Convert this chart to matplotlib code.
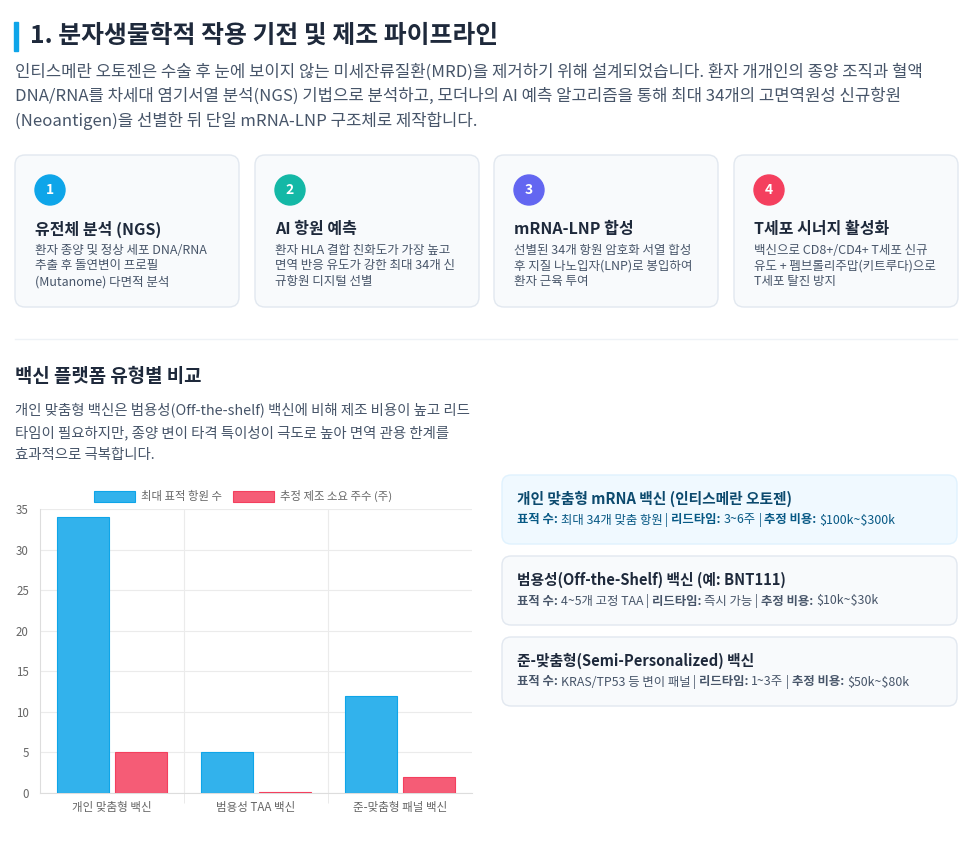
import matplotlib.pyplot as plt
from matplotlib.patches import FancyBboxPatch, Circle, Rectangle

plt.rcParams["font.family"] = ["Noto Sans CJK KR", "DejaVu Sans"]

# ---- data ----
title = "1. 분자생물학적 작용 기전 및 제조 파이프라인"
intro_lines = [
    "인티스메란 오토젠은 수술 후 눈에 보이지 않는 미세잔류질환(MRD)을 제거하기 위해 설계되었습니다. 환자 개개인의 종양 조직과 혈액",
    "DNA/RNA를 차세대 염기서열 분석(NGS) 기법으로 분석하고, 모더나의 AI 예측 알고리즘을 통해 최대 34개의 고면역원성 신규항원",
    "(Neoantigen)을 선별한 뒤 단일 mRNA-LNP 구조체로 제작합니다.",
]
step_titles = ["유전체 분석 (NGS)", "AI 항원 예측", "mRNA-LNP 합성", "T세포 시너지 활성화"]
step_texts = [
    ["환자 종양 및 정상 세포 DNA/RNA", "추출 후 돌연변이 프로필", "(Mutanome) 다면적 분석"],
    ["환자 HLA 결합 친화도가 가장 높고", "면역 반응 유도가 강한 최대 34개 신", "규항원 디지털 선별"],
    ["선별된 34개 항원 암호화 서열 합성", "후 지질 나노입자(LNP)로 봉입하여", "환자 근육 투여"],
    ["백신으로 CD8+/CD4+ T세포 신규", "유도 + 펨브롤리주맙(키트루다)으로", "T세포 탈진 방지"],
]
step_colors = ["#0ea5e9", "#14b8a6", "#6366f1", "#f43f5e"]

section_title = "백신 플랫폼 유형별 비교"
section_lines = [
    "개인 맞춤형 백신은 범용성(Off-the-shelf) 백신에 비해 제조 비용이 높고 리드",
    "타임이 필요하지만, 종양 변이 타격 특이성이 극도로 높아 면역 관용 한계를",
    "효과적으로 극복합니다.",
]

categories = ["개인 맞춤형 백신", "범용성 TAA 백신", "준-맞춤형 패널 백신"]
antigen_counts = [34, 5, 12]
mfg_weeks = [5, 0.1, 2]
series_names = ["최대 표적 항원 수", "추정 제조 소요 주수 (주)"]

platform_titles = [
    "개인 맞춤형 mRNA 백신 (인티스메란 오토젠)",
    "범용성(Off-the-Shelf) 백신 (예: BNT111)",
    "준-맞춤형(Semi-Personalized) 백신",
]
platform_targets = ["최대 34개 맞춤 항원", "4~5개 고정 TAA", "KRAS/TP53 등 변이 패널"]
platform_leads = ["3~6주", "즉시 가능", "1~3주"]
platform_costs = ["$100k~$300k", "$10k~$30k", "$50k~$80k"]

W, H = 975, 841
fig = plt.figure(figsize=(W / 100, H / 100), dpi=100)
bg = fig.add_axes([0, 0, 1, 1])
bg.set_xlim(0, W)
bg.set_ylim(H, 0)
bg.set_axis_off()

dark = "#1e293b"
body = "#475569"

# header
bg.add_patch(Rectangle((14, 22), 3.5, 29, color="#0ea5e9"))
bg.text(30, 36, title, fontsize=17.9, fontweight="bold", color=dark, va="center")
for i, line in enumerate(intro_lines):
    bg.text(15, 72 + i * 24.5, line, fontsize=12.05, color=body, va="center")

# step cards
card_x = [15, 255, 494, 734]
for i in range(4):
    x0 = card_x[i]
    bg.add_patch(FancyBboxPatch((x0, 155), 224, 152, boxstyle="round,pad=0,rounding_size=10",
                                fc="#f8fafc", ec="#e2e8f0", lw=1))
    bg.add_patch(Circle((x0 + 35, 190), 15, color=step_colors[i]))
    bg.text(x0 + 35, 190, str(i + 1), fontsize=10, fontweight="bold", color="white",
            ha="center", va="center")
    bg.text(x0 + 20, 229, step_titles[i], fontsize=11.5, fontweight="bold", color=dark, va="center")
    for j, line in enumerate(step_texts[i]):
        bg.text(x0 + 20, 250 + j * 16, line, fontsize=9.0, color=body, va="center")

bg.plot([15, 957], [339, 339], color="#eef2f6", lw=1)

bg.text(15, 376, section_title, fontsize=13.6, fontweight="bold", color=dark, va="center")
for i, line in enumerate(section_lines):
    bg.text(15, 410 + i * 22.5, line, fontsize=10.4, color=body, va="center")

# platform cards
renderer = fig.canvas.get_renderer()


def run_text(x, y, parts, color):
    for txt, weight in parts:
        t = bg.text(x, y, txt, fontsize=8.9, fontweight=weight, color=color, va="center",
                    parse_math=False)
        bb = t.get_window_extent(renderer)
        x += bb.width


card_tops = [475, 556, 637]
for i in range(3):
    top = card_tops[i]
    if i == 0:
        fc, ec, tc, sc = "#f0f9ff", "#e0f2fe", "#0c4a6e", "#075985"
    else:
        fc, ec, tc, sc = "#f8fafc", "#e2e8f0", dark, body
    bg.add_patch(FancyBboxPatch((502, top), 455, 69, boxstyle="round,pad=0,rounding_size=9",
                                fc=fc, ec=ec, lw=1))
    bg.text(517, top + 24, platform_titles[i], fontsize=10.6, fontweight="bold", color=tc, va="center")
    run_text(517, top + 45, [
        ("표적 수: ", "bold"), (platform_targets[i], "normal"), (" | ", "normal"),
        ("리드타임: ", "bold"), (platform_leads[i], "normal"), (" | ", "normal"),
        ("추정 비용: ", "bold"), (platform_costs[i], "normal"),
    ], sc)

# bar chart
ax = fig.add_axes([40 / W, 1 - 793 / H, 432 / W, 284 / H])
xs = list(range(len(categories)))
blue = "#32b2ec"
red = "#f55c76"
ax.bar([x - 0.2 for x in xs], antigen_counts, width=0.36, color=blue, edgecolor="#0ea5e9",
       lw=0.8, label=series_names[0], zorder=3)
ax.bar([x + 0.2 for x in xs], mfg_weeks, width=0.36, color=red, edgecolor="#f43f5e",
       lw=0.8, label=series_names[1], zorder=3)
ax.set_xlim(-0.5, 2.5)
ax.set_ylim(0, 35)
ax.set_yticks(range(0, 36, 5))
ax.set_xticks(xs)
ax.set_xticklabels(categories)
ax.set_xticks([0.5, 1.5], minor=True)
ax.tick_params(axis="y", length=0, pad=8, labelsize=8.3, labelcolor="#666666")
ax.tick_params(axis="x", which="major", length=0, pad=6, labelsize=8.3, labelcolor="#666666")
ax.tick_params(axis="x", which="minor", length=7, color="#e6e6e6")
ax.grid(axis="y", color="#ebebeb", lw=0.8, zorder=0)
ax.grid(axis="x", which="minor", color="#ebebeb", lw=0.8, zorder=0)
for s in ["top", "right"]:
    ax.spines[s].set_visible(False)
for s in ["left", "bottom"]:
    ax.spines[s].set_color("#dddddd")
ax.legend(loc="lower center", bbox_to_anchor=(0.47, 1.0), ncol=2, frameon=False,
          fontsize=8.2, labelcolor="#666666", handlelength=3.6, handleheight=1.1,
          columnspacing=1.0, handletextpad=0.5, borderaxespad=0.2)

fig.savefig("out.png", dpi=100)
